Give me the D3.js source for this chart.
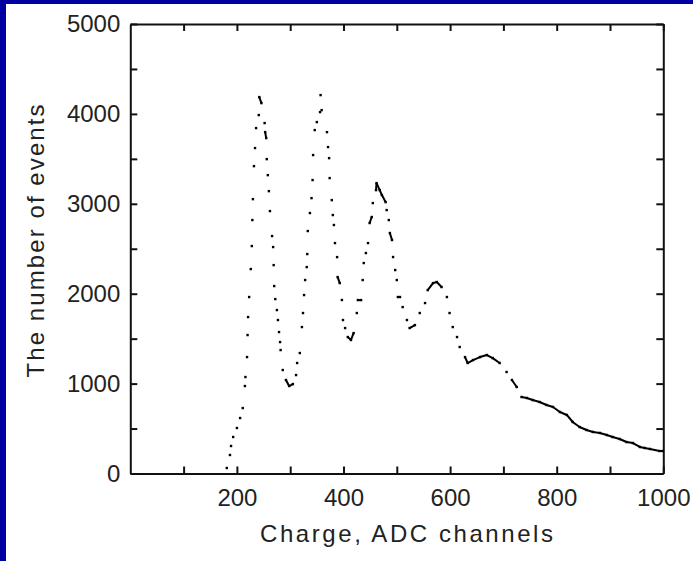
<!DOCTYPE html>
<html>
<head>
<meta charset="utf-8">
<script src="https://cdn.jsdelivr.net/npm/d3@7"></script>
<style>
  html, body { margin: 0; padding: 0; background: #fff; }
  svg { display: block; }
  text { font-family: "Liberation Sans", Arial, sans-serif; fill: #222; }
</style>
</head>
<body>
<svg id="main" width="693" height="561"></svg>
<script>
// ADC charge spectrum
const channels = [181, 187, 189, 193, 200, 206, 211, 215, 216, 219, 220, 221, 223, 226, 228, 229, 230, 232, 234, 236,
    241, 242, 246, 252, 253, 255, 256, 258, 260, 262, 266, 268, 269, 270, 272, 275, 277, 279, 281, 282,
    286, 292, 298, 305, 311, 313, 318, 322, 324, 326, 328, 331, 332, 333, 337, 340, 342, 343, 346, 350,
    356, 357, 359, 369, 371, 373, 374, 378, 380, 382, 384, 388, 389, 393, 397, 399, 403, 408, 414, 419,
    425, 427, 433, 436, 438, 442, 446, 449, 453, 455, 461, 462, 468, 472, 479, 481, 485, 487, 491, 493,
    497, 500, 502, 506, 511, 519, 524, 534, 543, 553, 558, 568, 575, 584, 594, 599, 605, 613, 618, 628,
    633, 643, 656, 669, 680, 693, 706, 716, 725, 734, 744, 755, 768, 781, 793, 806, 819, 830, 843, 856,
    868, 881, 894, 905, 918, 931, 943, 956, 965, 975, 993, 999];
const counts = [61, 206, 306, 406, 506, 617, 728, 973, 1073, 1295, 1540, 1740, 1963, 2274, 2530, 2819, 3052, 3419, 3620, 3842,
    3987, 4187, 4120, 3898, 3798, 3731, 3497, 3319, 3141, 2919, 2641, 2519, 2318, 2085, 1940, 1818, 1707, 1573, 1462, 1373,
    1151, 1040, 973, 995, 1095, 1229, 1340, 1629, 1785, 1985, 2152, 2296, 2441, 2697, 2897, 3063, 3264, 3542, 3820, 3909,
    4020, 4209, 4042, 3797, 3631, 3508, 3286, 3041, 2875, 2764, 2563, 2407, 2185, 2118, 1930, 1707, 1618, 1518, 1485, 1562,
    1785, 1929, 1929, 2152, 2341, 2452, 2563, 2786, 2853, 3008, 3152, 3230, 3152, 3097, 3019, 2930, 2819, 2675, 2597, 2408,
    2263, 2152, 1963, 1963, 1851, 1707, 1618, 1651, 1785, 1896, 2040, 2118, 2130, 2074, 1963, 1785, 1629, 1518, 1407, 1295,
    1229, 1262, 1295, 1318, 1284, 1229, 1129, 1040, 962, 851, 840, 817, 795, 762, 740, 684, 651, 573, 517, 484,
    462, 451, 428, 406, 384, 350, 339, 295, 284, 273, 250, 250];

const xTicks = d3.range(100, 1001, 100);
const xLabels = [200, 400, 600, 800, 1000];
const yTicks = d3.range(500, 5001, 500);
const yLabels = [0, 1000, 2000, 3000, 4000, 5000];

const svg = d3.select('#main');

// blue frame on top and left
svg.append('rect').attr('x', 0).attr('y', 0).attr('width', 693).attr('height', 4).attr('fill', '#0000a0');
svg.append('rect').attr('x', 0).attr('y', 0).attr('width', 6).attr('height', 561).attr('fill', '#0000a0');

const x = d3.scaleLinear().domain([0, 1000]).range([130.3, 663.3]);
const y = d3.scaleLinear().domain([0, 5000]).range([473.5, 24]);

const fmtX = d => xLabels.includes(d) ? d : '';
const fmtY = d => yLabels.includes(d) ? d : '';

function styleAxis(g) {
    g.select('.domain').attr('stroke', '#111').attr('stroke-width', 2);
    g.selectAll('.tick line').attr('stroke', '#111').attr('stroke-width', 2);
    g.selectAll('.tick text').attr('font-size', 24)
        .attr('font-family', '"Liberation Sans", Arial, sans-serif').attr('fill', '#222');
}

svg.append('g')
    .attr('transform', `translate(0,${y(0)})`)
    .call(d3.axisBottom(x).tickValues(xTicks).tickSize(-7).tickSizeOuter(0).tickPadding(15).tickFormat(fmtX))
    .call(styleAxis);
svg.append('g')
    .attr('transform', `translate(0,${y(5000)})`)
    .call(d3.axisTop(x).tickValues(xTicks).tickSize(-7).tickSizeOuter(0).tickFormat(''))
    .call(styleAxis);
svg.append('g')
    .attr('transform', `translate(${x(0)},0)`)
    .call(d3.axisLeft(y).tickValues([0].concat(yTicks)).tickSize(-7).tickSizeOuter(0).tickPadding(10).tickFormat(fmtY))
    .call(styleAxis);
svg.append('g')
    .attr('transform', `translate(${x(1000)},0)`)
    .call(d3.axisRight(y).tickValues(yTicks).tickSize(-7).tickSizeOuter(0).tickFormat(''))
    .call(styleAxis);

// axis titles
svg.append('text')
    .attr('x', 406.5).attr('y', 542)
    .attr('text-anchor', 'middle')
    .attr('font-size', 24)
    .attr('textLength', 293).attr('lengthAdjust', 'spacing')
    .text('Charge, ADC channels');

svg.append('text')
    .attr('transform', 'translate(44,241) rotate(-90)')
    .attr('text-anchor', 'middle')
    .attr('font-size', 24)
    .attr('textLength', 273).attr('lengthAdjust', 'spacing')
    .text('The number of events');

// data points
const pts = channels.map((c, i) => [x(c), y(counts[i])]);

const plot = svg.append('g');
// join neighbours only where the trace is flat enough to look continuous
plot.selectAll('line')
    .data(d3.pairs(pts).filter(([a, b]) => Math.hypot(b[0] - a[0], b[1] - a[1]) < 10 && Math.abs(b[1] - a[1]) < 8))
    .enter()
    .append('line')
    .attr('x1', d => d[0][0]).attr('y1', d => d[0][1])
    .attr('x2', d => d[1][0]).attr('y2', d => d[1][1])
    .attr('stroke', '#000')
    .attr('stroke-width', 2);

plot.selectAll('rect')
    .data(pts)
    .enter()
    .append('rect')
    .attr('x', d => d[0] - 1.2)
    .attr('y', d => d[1] - 1.2)
    .attr('width', 2.4)
    .attr('height', 2.4)
    .attr('fill', '#000');
</script>
</body>
</html>
